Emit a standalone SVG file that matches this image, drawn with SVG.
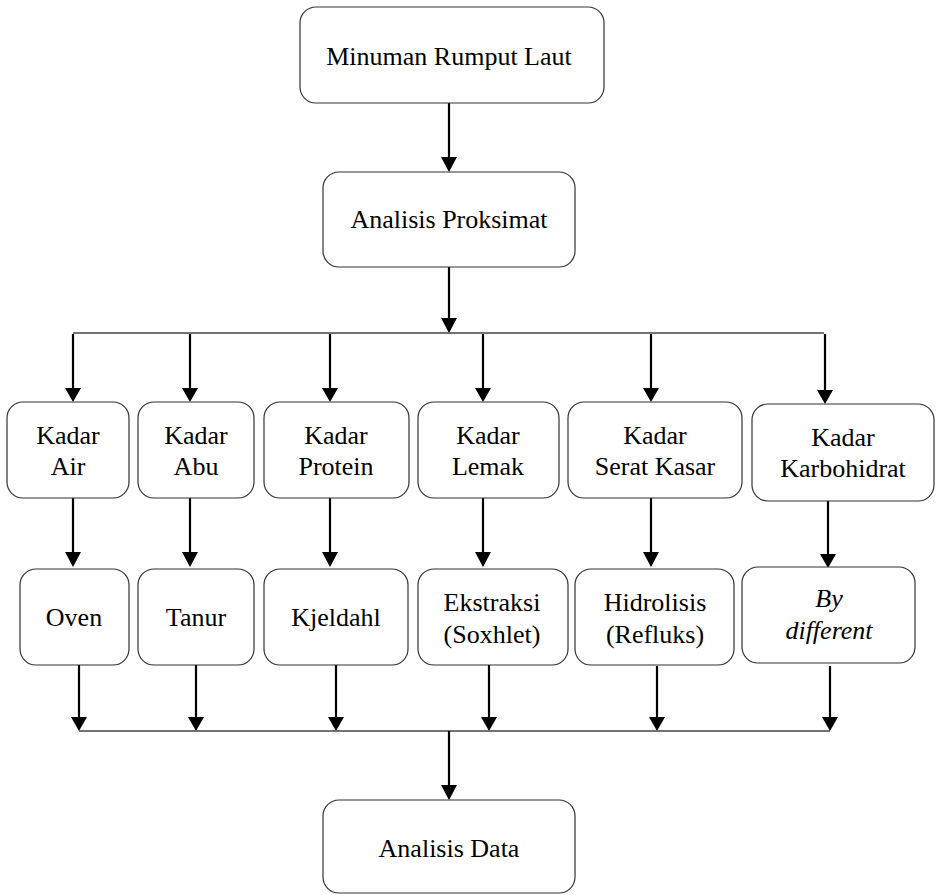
<svg xmlns="http://www.w3.org/2000/svg" width="941" height="895" viewBox="0 0 941 895">
<style>
.box{fill:#fff;stroke:#333;stroke-width:1.2}
.t{font-size:26px;fill:#000;text-anchor:middle}
.i{font-style:italic}
.s{stroke:#000;stroke-width:2.2;fill:none}
.h{stroke:#444;stroke-width:1.3;fill:none}
</style>
<g id="connectors">
<line class="s" x1="449" y1="103" x2="449" y2="157"/>
<path d="M441,157 L457,157 L449,172 Z"/>
<line class="s" x1="449" y1="267" x2="449" y2="318"/>
<path d="M441,318 L457,318 L449,333 Z"/>
<line class="h" x1="73" y1="333" x2="824" y2="333"/>
<line class="s" x1="73" y1="334" x2="73" y2="388"/><path d="M65,388 L81,388 L73,402 Z"/>
<line class="s" x1="190" y1="334" x2="190" y2="388"/><path d="M182,388 L198,388 L190,402 Z"/>
<line class="s" x1="330" y1="334" x2="330" y2="388"/><path d="M322,388 L338,388 L330,402 Z"/>
<line class="s" x1="483" y1="334" x2="483" y2="388"/><path d="M475,388 L491,388 L483,402 Z"/>
<line class="s" x1="651" y1="334" x2="651" y2="388"/><path d="M643,388 L659,388 L651,402 Z"/>
<line class="s" x1="825" y1="334" x2="825" y2="390"/><path d="M817,390 L833,390 L825,404 Z"/>
<line class="s" x1="73" y1="498" x2="73" y2="552"/><path d="M65,552 L81,552 L73,567 Z"/>
<line class="s" x1="190" y1="498" x2="190" y2="552"/><path d="M182,552 L198,552 L190,567 Z"/>
<line class="s" x1="330" y1="498" x2="330" y2="552"/><path d="M322,552 L338,552 L330,567 Z"/>
<line class="s" x1="483" y1="498" x2="483" y2="552"/><path d="M475,552 L491,552 L483,567 Z"/>
<line class="s" x1="651" y1="498" x2="651" y2="552"/><path d="M643,552 L659,552 L651,567 Z"/>
<line class="s" x1="828" y1="501" x2="828" y2="554"/><path d="M820,554 L836,554 L828,568 Z"/>
<line class="s" x1="79" y1="665" x2="79" y2="717"/><path d="M71,717 L87,717 L79,731 Z"/>
<line class="s" x1="196" y1="665" x2="196" y2="717"/><path d="M188,717 L204,717 L196,731 Z"/>
<line class="s" x1="336" y1="665" x2="336" y2="717"/><path d="M328,717 L344,717 L336,731 Z"/>
<line class="s" x1="489" y1="665" x2="489" y2="717"/><path d="M481,717 L497,717 L489,731 Z"/>
<line class="s" x1="657" y1="666" x2="657" y2="717"/><path d="M649,717 L665,717 L657,731 Z"/>
<line class="s" x1="830" y1="666" x2="830" y2="717"/><path d="M822,717 L838,717 L830,731 Z"/>
<line class="h" x1="79" y1="731" x2="830" y2="731"/>
<line class="s" x1="449" y1="731" x2="449" y2="785"/>
<path d="M441,785 L457,785 L449,800 Z"/>
</g>
<g font-family="Liberation Serif, serif">
<g id="n-minuman"><rect class="box" x="300" y="7" width="304" height="96" rx="16"/><text class="t" x="449" y="65">Minuman Rumput Laut</text></g>
<g id="n-proksimat"><rect class="box" x="323" y="172" width="252" height="95" rx="16"/><text class="t" x="449" y="228">Analisis Proksimat</text></g>
<g id="n-air"><rect class="box" x="7" y="402" width="122" height="96" rx="16"/><text class="t" x="68" y="444">Kadar</text><text class="t" x="68" y="475">Air</text></g>
<g id="n-abu"><rect class="box" x="138" y="402" width="116" height="96" rx="16"/><text class="t" x="196" y="444">Kadar</text><text class="t" x="196" y="475">Abu</text></g>
<g id="n-protein"><rect class="box" x="264" y="402" width="145" height="96" rx="16"/><text class="t" x="336" y="444">Kadar</text><text class="t" x="336" y="475">Protein</text></g>
<g id="n-lemak"><rect class="box" x="418" y="402" width="141" height="96" rx="16"/><text class="t" x="488" y="444">Kadar</text><text class="t" x="488" y="475">Lemak</text></g>
<g id="n-serat"><rect class="box" x="568" y="402" width="174" height="96" rx="16"/><text class="t" x="655" y="444">Kadar</text><text class="t" x="655" y="475">Serat Kasar</text></g>
<g id="n-karbo"><rect class="box" x="752" y="404" width="182" height="97" rx="16"/><text class="t" x="843" y="446">Kadar</text><text class="t" x="843" y="477">Karbohidrat</text></g>
<g id="n-oven"><rect class="box" x="20" y="569" width="109" height="96" rx="16"/><text class="t" x="74" y="626">Oven</text></g>
<g id="n-tanur"><rect class="box" x="138" y="569" width="116" height="96" rx="16"/><text class="t" x="196" y="626">Tanur</text></g>
<g id="n-kjeldahl"><rect class="box" x="264" y="569" width="144" height="96" rx="16"/><text class="t" x="336" y="626">Kjeldahl</text></g>
<g id="n-ekstraksi"><rect class="box" x="418" y="569" width="150" height="96" rx="16"/><text class="t" x="492" y="611">Ekstraksi</text><text class="t" x="492" y="643">(Soxhlet)</text></g>
<g id="n-hidrolisis"><rect class="box" x="575" y="569" width="159" height="96" rx="16"/><text class="t" x="655" y="611">Hidrolisis</text><text class="t" x="655" y="643">(Refluks)</text></g>
<g id="n-bydiff"><rect class="box" x="742" y="567" width="173" height="96" rx="16"/><text class="t i" x="829" y="607">By</text><text class="t i" x="829" y="639">different</text></g>
<g id="n-data"><rect class="box" x="323" y="800" width="252" height="93" rx="16"/><text class="t" x="449" y="857">Analisis Data</text></g>
</g>
</svg>
